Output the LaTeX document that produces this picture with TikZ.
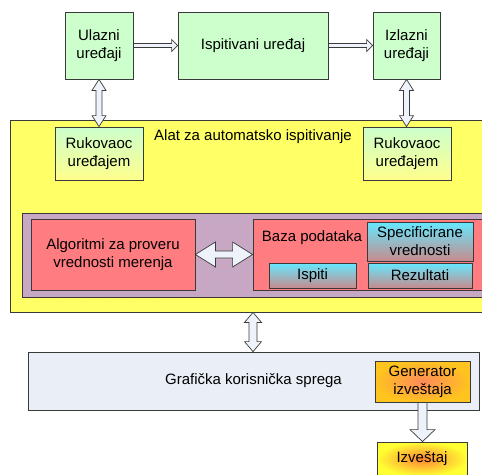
\documentclass[tikz,border=0pt]{standalone}
\usepackage{fontspec}
\setmainfont{Liberation Sans}
\usepackage{xcolor}
\usepackage{tikz}
\usetikzlibrary{calc,patterns}

\definecolor{boxline}{HTML}{3A3A3A}
\definecolor{devgreen}{HTML}{CCFFCC}
\definecolor{tooly}{HTML}{FFFF66}
\definecolor{salmon}{HTML}{FF7C80}
\definecolor{panelbase}{HTML}{C4AAC8}
\definecolor{paneldot}{HTML}{FF8A8A}
\definecolor{guiblue}{HTML}{EAEFF7}
\definecolor{arrfill}{HTML}{EEF2FA}
\definecolor{gengold}{HTML}{FFC41E}
\definecolor{genred}{HTML}{FF8A5A}

\tikzset{
  box/.style={draw=boxline, line width=0.8pt, align=center, inner sep=0pt,
    font=\fontsize{15}{18}\selectfont},
  devbox/.style={box, fill=devgreen},
  drvbox/.style={box, top color=devgreen, bottom color=yellow!45},
  toolbox/.style={box, fill=tooly},
  algbox/.style={box, fill=salmon},
  dbitem/.style={box, top color=cyan!85!blue!60!white, bottom color=salmon!50!gray!90},
  blockarr/.style={draw=boxline, line width=0.7pt, fill=arrfill, line join=miter},
  lbl/.style={font=\fontsize{15}{18}\selectfont, inner sep=0pt}
}

% single block arrow: from, to, half shaft, half head, head length
\newcommand{\sglarrow}[5]{%
  \coordinate (hb) at ($(#2)!#5pt!(#1)$);
  \filldraw[blockarr] ($(#1)!#3pt!90:(#2)$) -- ($(hb)!#3pt!90:(#2)$)
    -- ($(hb)!#4pt!90:(#2)$) -- (#2) -- ($(hb)!#4pt!-90:(#2)$)
    -- ($(hb)!#3pt!-90:(#2)$) -- ($(#1)!#3pt!-90:(#2)$) -- cycle;}
% double block arrow: same arguments
\newcommand{\dblarrow}[5]{%
  \coordinate (ha) at ($(#1)!#5pt!(#2)$);
  \coordinate (hb) at ($(#2)!#5pt!(#1)$);
  \filldraw[blockarr] (#1) -- ($(ha)!#4pt!90:(#2)$) -- ($(ha)!#3pt!90:(#2)$)
    -- ($(hb)!#3pt!90:(#2)$) -- ($(hb)!#4pt!90:(#2)$) -- (#2)
    -- ($(hb)!#4pt!-90:(#2)$) -- ($(hb)!#3pt!-90:(#2)$)
    -- ($(ha)!#3pt!-90:(#2)$) -- ($(ha)!#4pt!-90:(#2)$) -- cycle;}

\begin{document}
\begin{tikzpicture}[x=1pt, y=-1pt]
  \useasboundingbox (0,0) rectangle (482,474);
  \clip (0,0) rectangle (482,474);

  % devices
  \node[devbox, minimum width=68, minimum height=67] (ulaz) at (99,45.5) {Ulazni\\uređaji};
  \node[devbox, minimum width=150, minimum height=67] (ispit) at (253,45.5) {Ispitivani uređaj};
  \node[devbox, minimum width=67, minimum height=67] (izlaz) at (406.5,45.5) {Izlazni\\uređaji};

  % test tool
  \node[toolbox, minimum width=486, minimum height=192] (alat) at (253,216) {};
  \node[lbl] (alatlbl) at (253,137) {Alat za automatsko ispitivanje};
  \node[drvbox, minimum width=88, minimum height=53] (rk1) at (99,153.5) {Rukovaoc\\uređajem};
  \node[drvbox, minimum width=88, minimum height=53] (rk2) at (407,153.5) {Rukovaoc\\uređajem};

  % dotted panel
  \node[box, minimum width=470, minimum height=84, preaction={fill=panelbase},
    pattern=dots, pattern color=paneldot] (panel) at (257,255) {};
  \node[algbox, minimum width=164, minimum height=71] (algo) at (113,254.5) {Algoritmi za proveru\\vrednosti merenja};
  \node[algbox, minimum width=234, minimum height=71] (baza) at (370,254.5) {};
  \node[lbl] (bazalbl) at (312,238) {Baza podataka};
  \node[dbitem, minimum width=106, minimum height=39] (spec) at (420,241.5) {Specificirane\\vrednosti};
  \node[dbitem, minimum width=87, minimum height=25] (ispiti) at (312.5,275.5) {Ispiti};
  \node[dbitem, minimum width=104, minimum height=25] (rez) at (420,275.5) {Rezultati};

  % GUI and report
  \node[box, fill=guiblue, minimum width=451, minimum height=58] (gui) at (253.5,381) {Grafička korisnička sprega};
  \node[box, shading=radial, inner color=genred, outer color=gengold,
    minimum width=95, minimum height=41] (gen) at (422.5,381.5) {Generator\\izveštaja};
  \node[box, shading=radial, inner color=orange!80!red!80, outer color=yellow!80!white,
    minimum width=90, minimum height=34] (izv) at (422,459) {Izveštaj};

  % arrows
  \sglarrow{ulaz.east}{ispit.west}{2}{6}{6}
  \sglarrow{ispit.east}{izlaz.west}{2}{6}{6}
  \dblarrow{ulaz.south}{rk1.north}{3}{7}{11}
  \dblarrow{izlaz.south}{izlaz.south |- rk2.north}{3}{7}{11}
  \dblarrow{algo.east}{baza.west}{3.5}{12.5}{20}
  \dblarrow{alat.south}{alat.south |- gui.north}{4}{8.5}{10}
  \sglarrow{gen.south}{gen.south |- izv.north}{4.5}{12.5}{12}
\end{tikzpicture}
\end{document}
